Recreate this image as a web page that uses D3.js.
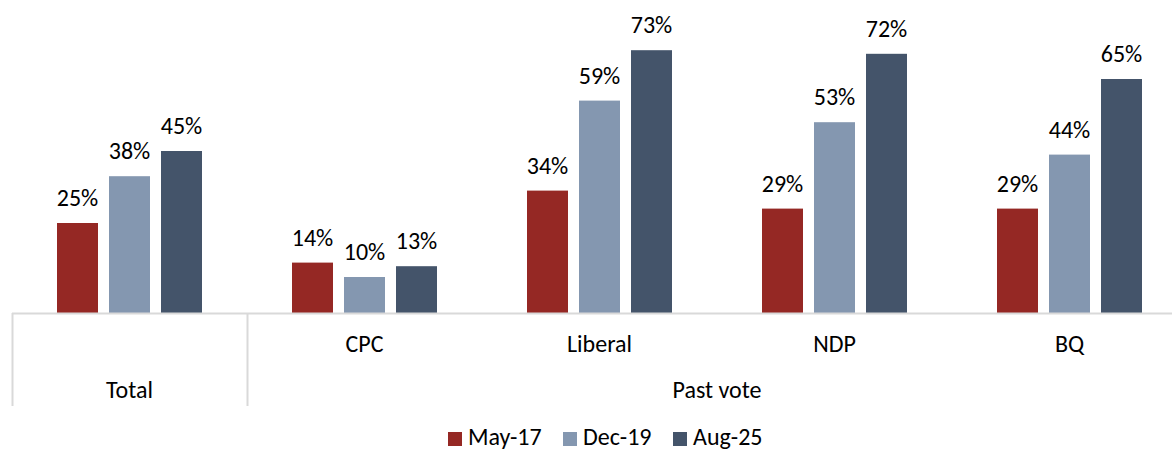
<!DOCTYPE html>
<html>
<head>
<meta charset="utf-8">
<script src="https://cdn.jsdelivr.net/npm/d3@7"></script>
<style>
  body { margin: 0; background: #fff; }
  text { font-family: Carlito, Calibri, "Open Sans", sans-serif; fill: #000; font-size: 24px; }
</style>
</head>
<body>
<svg id="chart" width="1172" height="450"></svg>
<script>
// data
const categories = ["Total", "CPC", "Liberal", "NDP", "BQ"];
const series = ["May-17", "Dec-19", "Aug-25"];
const may17 = [25, 14, 34, 29, 29];
const dec19 = [38, 10, 59, 53, 44];
const aug25 = [45, 13, 73, 72, 65];
const groupLabels = [{name: "Total", from: 0, to: 0}, {name: "Past vote", from: 1, to: 4}];

const colors = ["#952824", "#8497B0", "#44546A"];
const values = [may17, dec19, aug25];

const svg = d3.select("#chart");
const baseY = 313;

const x0 = d3.scaleBand().domain(categories).range([12, 1187]).padding(0);
const x1 = d3.scaleBand().domain(series).range([45, 190]).paddingInner(11 / 52).paddingOuter(0);
const y = d3.scaleLinear().domain([0, 80]).range([baseY, baseY - 288]);

// bars
const groups = svg.selectAll("g.grp")
  .data(categories)
  .enter().append("g")
  .attr("class", "grp")
  .attr("transform", d => "translate(" + x0(d) + ",0)");

groups.each(function(cat, ci) {
  const g = d3.select(this);
  series.forEach(function(s, si) {
    const v = values[si][ci];
    g.append("rect")
      .attr("x", x1(s))
      .attr("y", y(v))
      .attr("width", x1.bandwidth())
      .attr("height", y(0) - y(v))
      .attr("fill", colors[si]);
    g.append("text")
      .attr("x", x1(s) + x1.bandwidth() / 2)
      .attr("y", y(v) - 17)
      .attr("text-anchor", "middle")
      .text(v + "%");
  });
});

// axis line + category separators
const lineCol = "#d9d9d9";
svg.append("line")
  .attr("x1", 12).attr("x2", 1187)
  .attr("y1", baseY + 0.5).attr("y2", baseY + 0.5)
  .attr("stroke", lineCol).attr("stroke-width", 2);

[0, 1].forEach(function(i) {
  const xx = x0(categories[i]) + 0.5;
  svg.append("line")
    .attr("x1", xx).attr("x2", xx)
    .attr("y1", baseY).attr("y2", 406)
    .attr("stroke", lineCol).attr("stroke-width", 2);
});

// first level labels (no label under Total on this level)
svg.selectAll("text.cat")
  .data(categories.slice(1))
  .enter().append("text")
  .attr("class", "cat")
  .attr("x", d => x0(d) + x0.bandwidth() / 2)
  .attr("y", 352)
  .attr("text-anchor", "middle")
  .text(d => d);

// second level labels
svg.selectAll("text.lvl2")
  .data(groupLabels)
  .enter().append("text")
  .attr("class", "lvl2")
  .attr("x", d => (x0(categories[d.from]) + x0(categories[d.to]) + x0.bandwidth()) / 2)
  .attr("y", 398)
  .attr("text-anchor", "middle")
  .text(d => d.name);

// legend
const legendX = [448, 563, 673];
const legend = svg.selectAll("g.leg")
  .data(series)
  .enter().append("g")
  .attr("class", "leg")
  .attr("transform", (d, i) => "translate(" + legendX[i] + ",432)");
legend.append("rect")
  .attr("width", 14).attr("height", 14)
  .attr("fill", (d, i) => colors[i]);
legend.append("text")
  .attr("x", 20).attr("y", 13)
  .text(d => d);
</script>
</body>
</html>
